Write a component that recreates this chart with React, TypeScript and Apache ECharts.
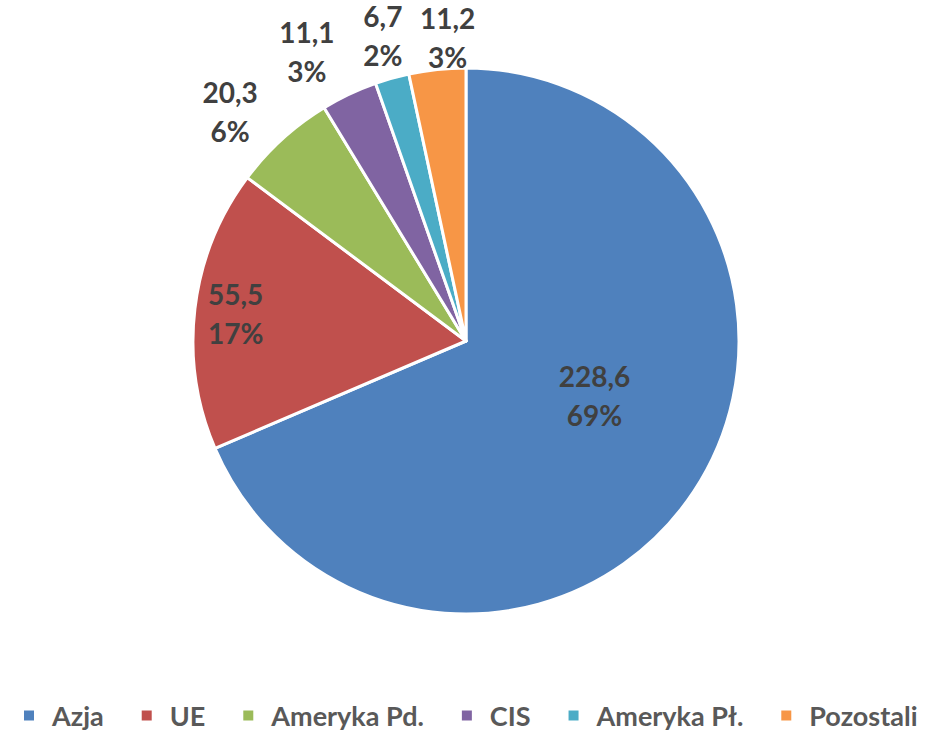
import React, { useEffect, useRef } from "react";
import * as echarts from "echarts";

const categories = ["Azja", "UE", "Ameryka Pd.", "CIS", "Ameryka Pł.", "Pozostali"];
const values = [228.6, 55.5, 20.3, 11.1, 6.7, 11.2];
const colors = ["#4F81BD", "#C0504D", "#9BBB59", "#8064A2", "#4BACC6", "#F79646"];
// where each slice's label is drawn: 0 = inside the pie, 1 = inner ring, 2 = outside ring
const labelPlace = [0, 1, 2, 2, 2, 2];
// small style nudges of each label [dx, dy] (px) from its ring position
const labelNudge = [
  [12, -22],
  [0, 0],
  [-17, 11],
  [-20, 5],
  [5, 8],
  [16, 20],
];

const FONT = "Lato, 'Open Sans', sans-serif";
const CENTER = [466, 341];
const R = 273;

function labelFor(i: number, show: boolean) {
  const [dx, dy] = labelNudge[i];
  const sp = Math.abs(dy) * 2;
  return {
    show,
    position: "inside",
    align: "center",
    padding: [0, dx < 0 ? -dx * 2 : 0, 0, dx > 0 ? dx * 2 : 0],
    formatter: (p: any) => {
      const v = Number(p.value).toFixed(1).replace(".", ",");
      const pct = `${Math.round(p.percent)}%`;
      const top = dy > 0 ? "{s| }\n" : "";
      const bot = dy < 0 ? "\n{s| }" : "";
      return `${top}{t|${v}}\n{t|${pct}}${bot}`;
    },
    rich: {
      t: {
        fontFamily: FONT,
        fontSize: 28,
        fontWeight: "bold",
        color: "#404040",
        lineHeight: 39,
        align: "center",
      },
      s: { fontSize: 1, lineHeight: sp || 1, align: "center" },
    },
  };
}

function helperSeries(place: number, radius: any) {
  return {
    type: "pie",
    center: CENTER,
    radius,
    startAngle: 90,
    clockwise: true,
    silent: true,
    emphasis: { disabled: true },
    labelLine: { show: false },
    itemStyle: { color: "transparent", borderWidth: 0 },
    data: categories.map((name, i) => ({
      name,
      value: values[i],
      itemStyle: { color: "transparent" },
      label: labelFor(i, labelPlace[i] === place),
    })),
  };
}

export default function App() {
  const ref = useRef<HTMLDivElement>(null);
  useEffect(() => {
    document.body.style.margin = "0";
    const chart = echarts.init(ref.current!, undefined, { renderer: "svg" });
    chart.setOption({
      animation: false,
      backgroundColor: "#ffffff",
      legend: {
        data: categories,
        left: 17,
        bottom: -2,
        itemWidth: 12,
        itemHeight: 12,
        itemGap: 36,
        icon: "rect",
        selectedMode: false,
        textStyle: {
          fontFamily: FONT,
          fontSize: 27,
          fontWeight: "bold",
          color: "#595959",
          padding: [0, 0, 0, 12],
        },
      },
      series: [
        {
          type: "pie",
          center: CENTER,
          radius: R,
          startAngle: 90,
          clockwise: true,
          emphasis: { disabled: true },
          labelLine: { show: false },
          itemStyle: { borderColor: "#ffffff", borderWidth: 3 },
          data: categories.map((name, i) => ({
            name,
            value: values[i],
            itemStyle: { color: colors[i] },
            label: labelFor(i, labelPlace[i] === 0),
          })),
        },
        helperSeries(1, [185, R]),
        helperSeries(2, [R, 372]),
      ],
    });
    return () => chart.dispose();
  }, []);
  return <div ref={ref} style={{ width: 946, height: 732 }} />;
}
